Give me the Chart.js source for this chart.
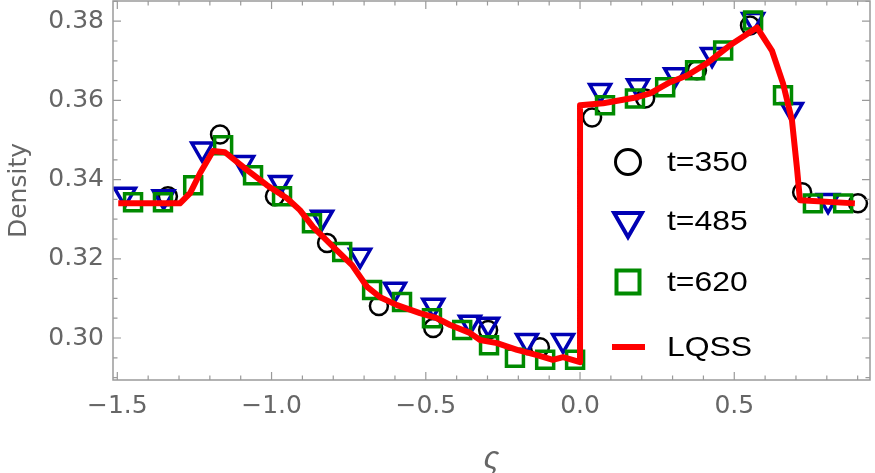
<!DOCTYPE html>
<html><head><meta charset="utf-8">
<script src="https://cdn.jsdelivr.net/npm/chart.js@4/dist/chart.umd.min.js"></script>
<style>html,body{margin:0;padding:0;background:#fff}#wrap{width:875px;height:473px;position:relative}</style>
</head><body><div id="wrap"><canvas id="c" width="875" height="473"></canvas></div>
<script>
// ---- data ----
const seriesLabels = ["t=350", "t=485", "t=620", "LQSS"];

const x350 = [-1.336, -1.167, -0.989, -0.820, -0.652, -0.476, -0.298, -0.130, 0.039, 0.211, 0.379, 0.551, 0.720, 0.901];
const y350 = [0.3358, 0.3514, 0.3358, 0.3240, 0.3081, 0.3025, 0.3020, 0.2977, 0.3557, 0.3605, 0.3676, 0.3789, 0.3368, 0.3340];

const x485 = [-1.475, -1.350, -1.225, -1.092, -0.972, -0.836, -0.713, -0.600, -0.476, -0.357, -0.298, -0.172, -0.055, 0.065, 0.188, 0.308, 0.428, 0.561, 0.687, 0.804];
const y485 = [0.3363, 0.3357, 0.3477, 0.3443, 0.3393, 0.3305, 0.3209, 0.3123, 0.3083, 0.3040, 0.3035, 0.2994, 0.2994, 0.3625, 0.3637, 0.3665, 0.3716, 0.3804, 0.3577, 0.3347];

const x620 = [-1.449, -1.352, -1.254, -1.157, -1.060, -0.966, -0.869, -0.771, -0.674, -0.577, -0.480, -0.382, -0.295, -0.211, -0.113, -0.016, 0.081, 0.178, 0.276, 0.373, 0.464, 0.561, 0.658, 0.755, 0.853];
const y620 = [0.3343, 0.3343, 0.3386, 0.3487, 0.3411, 0.3358, 0.3290, 0.3217, 0.3121, 0.3091, 0.3050, 0.3020, 0.2982, 0.2950, 0.2945, 0.2945, 0.3588, 0.3605, 0.3633, 0.3676, 0.3726, 0.3802, 0.3613, 0.3340, 0.3340];

const xLQSS = [-1.497, -1.297, -1.264, -1.232, -1.190, -1.151, -1.079, -1.015, -0.950, -0.908, -0.865, -0.800, -0.739, -0.690, -0.648, -0.593, -0.519, -0.464, -0.421, -0.357, -0.324, -0.269, -0.204, -0.139, -0.088, -0.055, 0.000, 0.000, 0.075, 0.185, 0.227, 0.292, 0.347, 0.412, 0.486, 0.574, 0.622, 0.658, 0.687, 0.703, 0.713, 0.891];
const yLQSS = [0.3340, 0.3340, 0.3366, 0.3416, 0.3472, 0.3469, 0.3424, 0.3386, 0.3353, 0.3323, 0.3280, 0.3230, 0.3184, 0.3129, 0.3103, 0.3083, 0.3063, 0.3050, 0.3033, 0.3013, 0.2995, 0.2987, 0.2970, 0.2957, 0.2945, 0.2952, 0.2939, 0.3588, 0.3593, 0.3608, 0.3618, 0.3646, 0.3663, 0.3694, 0.3739, 0.3784, 0.3726, 0.3643, 0.3550, 0.3431, 0.3348, 0.3340];

const xMajorTicks = [-1.5, -1.0, -0.5, 0.0, 0.5];
const xTickLabels = ["\u22121.5", "\u22121.0", "\u22120.5", "0.0", "0.5"];
const yMajorTicks = [0.30, 0.32, 0.34, 0.36, 0.38];
const yTickLabels = ["0.30", "0.32", "0.34", "0.36", "0.38"];
const xMinorTicks = [-1.4,-1.3,-1.2,-1.1,-0.9,-0.8,-0.7,-0.6,-0.4,-0.3,-0.2,-0.1,0.1,0.2,0.3,0.4,0.6,0.7,0.8,0.9];
const yMinorTicks = [0.29,0.295,0.305,0.31,0.315,0.325,0.33,0.335,0.345,0.35,0.355,0.365,0.37,0.375,0.385];

const xTitle = "\u03C2";
const yTitle = "Density";

// ---- styles ----
const C350 = "#000000", C485 = "#0000b4", C620 = "#008a00", CLQSS = "#ff0000";
const FRAME = "#9a9a9a", TICKTXT = "#666666";
const FONT = "'Liberation Sans', Arial, sans-serif";
const WFONT = "'DejaVu Sans', sans-serif";

const pts = (xs, ys) => xs.map((x, i) => ({x: x, y: ys[i]}));

const framePlugin = {
  id: 'frame',
  afterDraw(chart) {
    const {ctx, chartArea: a, scales: {x, y}} = chart;
    ctx.save();
    ctx.strokeStyle = FRAME;
    ctx.lineWidth = 1.5;
    ctx.strokeRect(a.left, a.top, a.right - a.left, a.bottom - a.top);
    ctx.lineWidth = 1.2;
    ctx.beginPath();
    const tx = (v, len) => { const p = x.getPixelForValue(v); if (p < a.left || p > a.right) return;
      ctx.moveTo(p, a.bottom); ctx.lineTo(p, a.bottom - len); ctx.moveTo(p, a.top); ctx.lineTo(p, a.top + len); };
    const ty = (v, len) => { const p = y.getPixelForValue(v); if (p < a.top || p > a.bottom) return;
      ctx.moveTo(a.left, p); ctx.lineTo(a.left + len, p); ctx.moveTo(a.right, p); ctx.lineTo(a.right - len, p); };
    xMajorTicks.forEach(v => tx(v, 8)); xMinorTicks.forEach(v => tx(v, 4.5));
    yMajorTicks.forEach(v => ty(v, 8)); yMinorTicks.forEach(v => ty(v, 4.5));
    ctx.stroke();
    ctx.restore();
  }
};

const legendPlugin = {
  id: 'insideLegend',
  afterDraw(chart) {
    const ctx = chart.ctx;
    const mx = 628, tx = 667, rows = [162, 221, 282, 347];
    ctx.save();
    ctx.strokeStyle = C350; ctx.lineWidth = 3;
    ctx.beginPath(); ctx.arc(mx, rows[0], 12.5, 0, Math.PI * 2); ctx.stroke();
    ctx.strokeStyle = C485; ctx.lineWidth = 4; ctx.lineJoin = 'miter';
    const r = 16;
    ctx.beginPath();
    ctx.moveTo(mx - r * 0.866, rows[1] - r * 0.5);
    ctx.lineTo(mx + r * 0.866, rows[1] - r * 0.5);
    ctx.lineTo(mx, rows[1] + r);
    ctx.closePath(); ctx.stroke();
    ctx.strokeStyle = C620; ctx.lineWidth = 4;
    ctx.strokeRect(mx - 11.5, rows[2] - 11.5, 23, 23);
    ctx.strokeStyle = CLQSS; ctx.lineWidth = 6;
    ctx.beginPath(); ctx.moveTo(612, rows[3]); ctx.lineTo(645, rows[3]); ctx.stroke();
    ctx.fillStyle = "#000"; ctx.font = "28px " + FONT; ctx.textBaseline = 'middle'; ctx.textAlign = 'left';
    chart.data.datasets.forEach((ds, i) => {
      ctx.save(); ctx.translate(tx, rows[i] + 1); ctx.scale(1.14, 1);
      ctx.fillText(ds.label, 0, 0); ctx.restore();
    });
    ctx.restore();
  }
};

new Chart(document.getElementById('c'), {
  type: 'scatter',
  data: {
    datasets: [
      {label: seriesLabels[0], data: pts(x350, y350), order: 4, pointStyle: 'circle', pointRadius: 9, pointBorderWidth: 2.5,
       borderColor: C350, backgroundColor: 'rgba(0,0,0,0)', pointHoverRadius: 9},
      {label: seriesLabels[1], data: pts(x485, y485), order: 3, pointStyle: 'triangle', rotation: 180, pointRadius: 12, pointBorderWidth: 3.5,
       borderColor: C485, backgroundColor: 'rgba(0,0,0,0)', pointHoverRadius: 12},
      {label: seriesLabels[2], data: pts(x620, y620), order: 2, pointStyle: 'rect', pointRadius: 12, pointBorderWidth: 3.5,
       borderColor: C620, backgroundColor: 'rgba(0,0,0,0)', pointHoverRadius: 12},
      {label: seriesLabels[3], type: 'line', data: pts(xLQSS, yLQSS), order: 1, showLine: true, pointRadius: 0, borderWidth: 6,
       borderColor: CLQSS, backgroundColor: CLQSS, tension: 0, borderJoinStyle: 'round', fill: false}
    ]
  },
  options: {
    responsive: false,
    animation: false,
    events: [],
    layout: {autoPadding: false, padding: {top: 1, right: 5, left: 0, bottom: 0}},
    plugins: {legend: {display: false}, tooltip: {enabled: false}},
    scales: {
      x: {
        type: 'linear', min: -1.514, max: 0.94,
        grid: {display: false, drawTicks: false}, border: {display: false},
        afterBuildTicks: s => { s.ticks = xMajorTicks.map(v => ({value: v})); },
        afterFit: s => { s.height = 93; s.paddingLeft = 0; s.paddingRight = 0; },
        ticks: {padding: 11, color: TICKTXT, font: {family: WFONT, size: 25}, maxRotation: 0, autoSkip: false,
                callback: (v) => { const i = xMajorTicks.findIndex(t => Math.abs(t - v) < 1e-9); return i >= 0 ? xTickLabels[i] : ''; }},
        title: {display: true, text: xTitle, color: TICKTXT, font: {family: FONT, size: 32, style: 'italic', lineHeight: 0.88}, padding: {top: 0, bottom: 0}}
      },
      y: {
        type: 'linear', min: 0.2894, max: 0.3851,
        grid: {display: false, drawTicks: false}, border: {display: false},
        afterBuildTicks: s => { s.ticks = yMajorTicks.map(v => ({value: v})); },
        afterFit: s => { s.width = 113; s.paddingTop = 0; s.paddingBottom = 0; },
        ticks: {padding: 9, color: TICKTXT, font: {family: WFONT, size: 25}, autoSkip: false,
                callback: (v) => { const i = yMajorTicks.findIndex(t => Math.abs(t - v) < 1e-9); return i >= 0 ? yTickLabels[i] : ''; }},
        title: {display: true, text: yTitle, color: TICKTXT, font: {family: WFONT, size: 25}, padding: {top: 4, bottom: 0}}
      }
    }
  },
  plugins: [framePlugin, legendPlugin]
});
</script></body></html>
